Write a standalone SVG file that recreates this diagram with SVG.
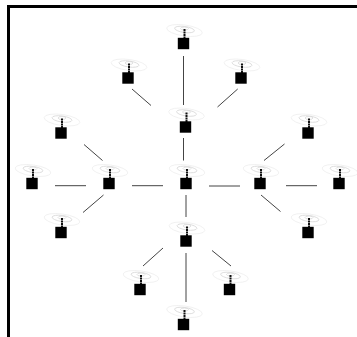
<svg xmlns="http://www.w3.org/2000/svg" width="357" height="337" viewBox="0 0 357 337">
<style>
.l{stroke:#444;stroke-width:1;fill:none}
.o{fill:none;stroke:#eee;stroke-width:.8}
.i{fill:none;stroke:#d8d8d8;stroke-width:.8}
.s{stroke:#111;stroke-width:2;stroke-dasharray:2 .5}
</style>
<defs>
<g id="ant">
<ellipse class="o" cx="1" cy="-13" rx="18" ry="5.500" transform="rotate(8 1 -13)"/>
<ellipse class="i" cx="1" cy="-14" rx="10" ry="3" transform="rotate(8 1 -14)"/>
<ellipse class="i" cx="1" cy="-15" rx="4" ry="1.500"/>
<line class="s" x1="1" y1="-5" x2="1" y2="-15"/>
<rect x="-5.700" y="-5.700" width="11.400" height="11.400" fill="#000"/>
</g>
</defs>
<rect width="357" height="337" fill="#fff"/>
<g id="frame" fill="#000">
<rect x="7" y="5" width="350" height="3"/>
<rect x="7" y="5" width="3" height="332"/>
</g>
<g id="connectors">
<line class="l" x1="183.500" y1="56" x2="183.500" y2="105"/>
<line class="l" x1="132" y1="89" x2="151" y2="105.500"/>
<line class="l" x1="84" y1="144.500" x2="102.500" y2="160.500"/>
<line class="l" x1="183.500" y1="138" x2="183.500" y2="160.500"/>
<line class="l" x1="237.700" y1="89" x2="217.500" y2="107"/>
<line class="l" x1="284.500" y1="144" x2="264" y2="160.500"/>
<line class="l" x1="55" y1="185.700" x2="86" y2="185.700"/>
<line class="l" x1="132" y1="185.700" x2="163" y2="185.700"/>
<line class="l" x1="103.500" y1="195" x2="83" y2="212.500"/>
<line class="l" x1="186" y1="195" x2="186" y2="217"/>
<line class="l" x1="163" y1="248" x2="143" y2="266"/>
<line class="l" x1="186" y1="253" x2="186" y2="302"/>
<line class="l" x1="209" y1="186" x2="240" y2="186"/>
<line class="l" x1="286" y1="185.700" x2="317" y2="185.700"/>
<line class="l" x1="261" y1="195" x2="280.500" y2="211.500"/>
<line class="l" x1="212" y1="250.500" x2="231" y2="266"/>
</g>
<g id="n1"><use href="#ant" x="183.500" y="43.500"/></g>
<g id="n2"><use href="#ant" x="128" y="78"/></g>
<g id="n3"><use href="#ant" x="241" y="78"/></g>
<g id="n4"><use href="#ant" x="185.500" y="127"/></g>
<g id="n5"><use href="#ant" x="61" y="133"/></g>
<g id="n6"><use href="#ant" x="308" y="133"/></g>
<g id="n7"><use href="#ant" x="32" y="183.500"/></g>
<g id="n8"><use href="#ant" x="109" y="183.500"/></g>
<g id="n9"><use href="#ant" x="186" y="183.500"/></g>
<g id="n10"><use href="#ant" x="260" y="183.500"/></g>
<g id="n11"><use href="#ant" x="339" y="183.500"/></g>
<g id="n12"><use href="#ant" x="61" y="232.500"/></g>
<g id="n13"><use href="#ant" x="308" y="232.500"/></g>
<g id="n14"><use href="#ant" x="186" y="241"/></g>
<g id="n15"><use href="#ant" x="140" y="289.500"/></g>
<g id="n16"><use href="#ant" x="229.500" y="289.500"/></g>
<g id="n17"><use href="#ant" x="183.500" y="324.500"/></g>
</svg>
